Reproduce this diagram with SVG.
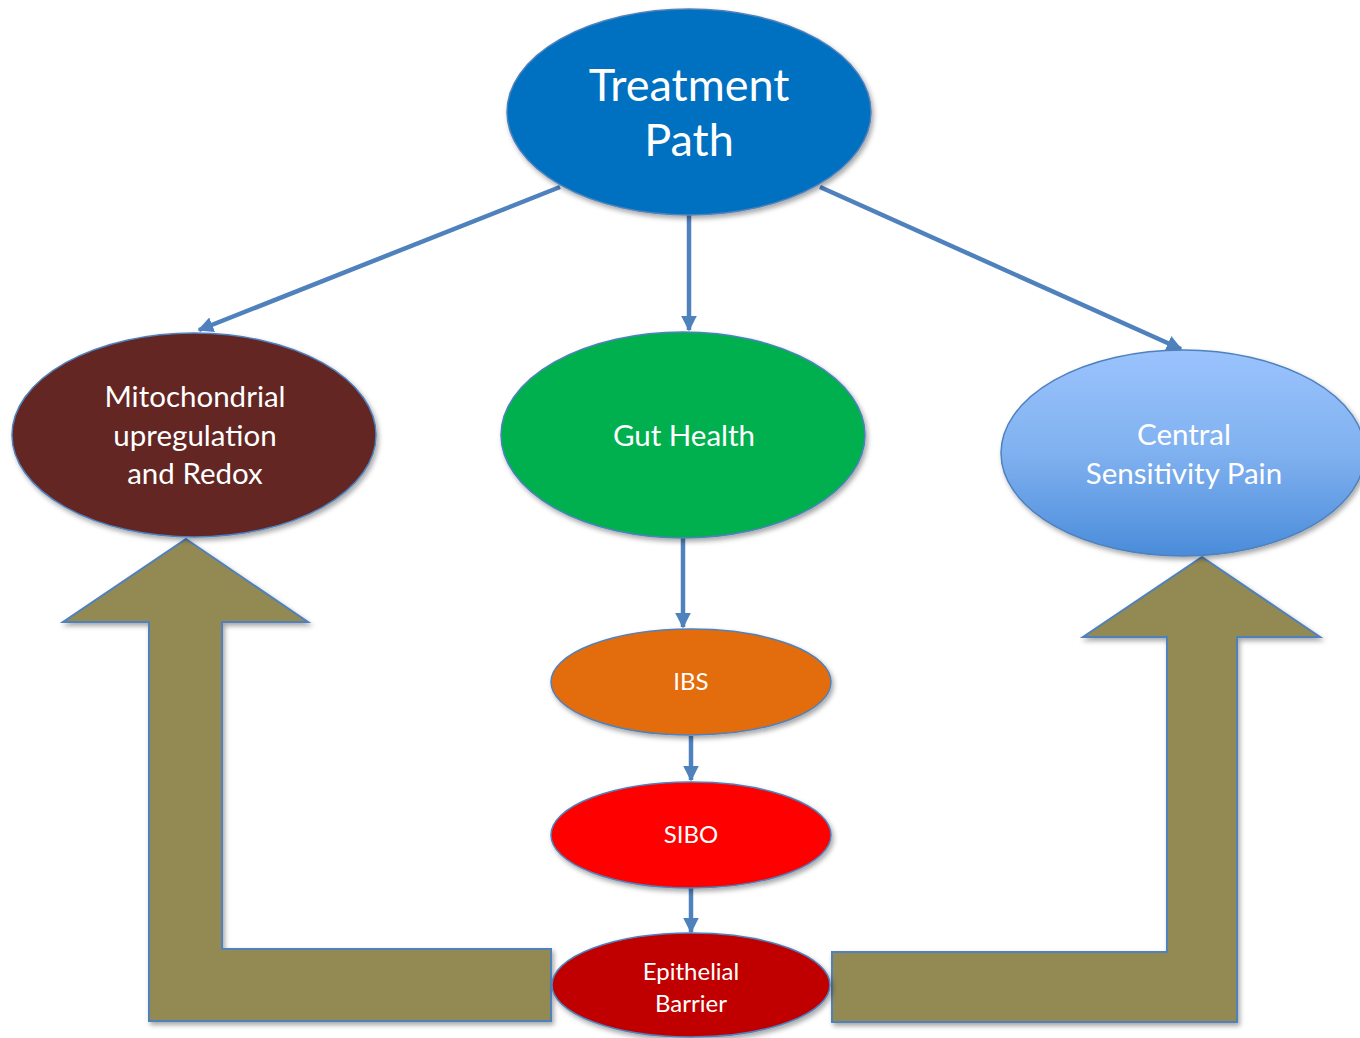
<svg xmlns="http://www.w3.org/2000/svg" width="1360" height="1038" viewBox="0 0 1360 1038">
<defs>
<style>
.n{stroke:#4F81BD;stroke-width:1.5;filter:url(#sh)}
.t{font-family:Lato,"Open Sans","Liberation Sans",sans-serif;fill:#fff;text-anchor:middle}
.c{stroke:#4F81BD;stroke-width:4.5;fill:none;marker-end:url(#ah)}
.big{fill:#938953;stroke:#4F81BD;stroke-width:2;filter:url(#sh)}
</style>
<marker id="ah" viewBox="0 0 10 10" refX="9" refY="5" markerWidth="3.5" markerHeight="3.5" orient="auto" markerUnits="strokeWidth">
<path d="M0,0 L10,5 L0,10 z" fill="#4F81BD"/>
</marker>
<filter id="sh" x="-10%" y="-10%" width="130%" height="130%">
<feDropShadow dx="2" dy="3" stdDeviation="2.5" flood-color="#000" flood-opacity="0.35"/>
</filter>
<linearGradient id="gb" x1="0" y1="0" x2="0" y2="1">
<stop offset="0" stop-color="#9AC3FD"/>
<stop offset="0.5" stop-color="#80B1F0"/>
<stop offset="1" stop-color="#4A8CDA"/>
</linearGradient>
</defs>
<rect width="1360" height="1038" fill="#fff"/>
<g id="arrow-left">
<polygon class="big" points="186,539 308,622 222,622 222,949 551,949 551,1021 149,1021 149,622 63,622"/>
</g>
<g id="arrow-right">
<polygon class="big" points="1202,557 1320,637 1237,637 1237,1022 832,1022 832,952 1167,952 1167,637 1083,637"/>
</g>
<g id="connectors">
<line class="c" x1="560" y1="187" x2="199" y2="330"/>
<line class="c" x1="689" y1="215" x2="689" y2="330"/>
<line class="c" x1="820" y1="187" x2="1181" y2="349"/>
<line class="c" x1="683" y1="538" x2="683" y2="627"/>
<line class="c" x1="691" y1="736" x2="691" y2="780"/>
<line class="c" x1="691" y1="888" x2="691" y2="932"/>
</g>
<g id="treatment">
<ellipse class="n" cx="689" cy="112" rx="182" ry="103" fill="#0070C0"/>
<text class="t" x="689" y="101" font-size="45">Treatment</text>
<text class="t" x="689" y="156" font-size="45">Path</text>
</g>
<g id="mito">
<ellipse class="n" cx="194" cy="435" rx="182" ry="102" fill="#632523"/>
<text class="t" x="195" y="407" font-size="29.5">Mitochondrial</text>
<text class="t" x="195" y="446" font-size="29.5">upregulation</text>
<text class="t" x="195" y="484" font-size="29.5">and Redox</text>
</g>
<g id="gut">
<ellipse class="n" cx="683" cy="435" rx="182" ry="103" fill="#00B050"/>
<text class="t" x="684" y="446" font-size="29.5">Gut Health</text>
</g>
<g id="central">
<ellipse class="n" cx="1183" cy="453" rx="182" ry="103" fill="url(#gb)"/>
<text class="t" x="1184" y="445" font-size="29.5">Central</text>
<text class="t" x="1184" y="484" font-size="29.5">Sensitivity Pain</text>
</g>
<g id="ibs">
<ellipse class="n" cx="691" cy="682" rx="140" ry="53" fill="#E36C0A"/>
<text class="t" x="691" y="690" font-size="24">IBS</text>
</g>
<g id="sibo">
<ellipse class="n" cx="691" cy="835" rx="140" ry="53" fill="#FF0000"/>
<text class="t" x="691" y="843" font-size="24">SIBO</text>
</g>
<g id="epithelial">
<ellipse class="n" cx="691" cy="985" rx="139" ry="52" fill="#C00000"/>
<text class="t" x="691" y="980" font-size="24">Epithelial</text>
<text class="t" x="691" y="1012" font-size="24">Barrier</text>
</g>
</svg>
